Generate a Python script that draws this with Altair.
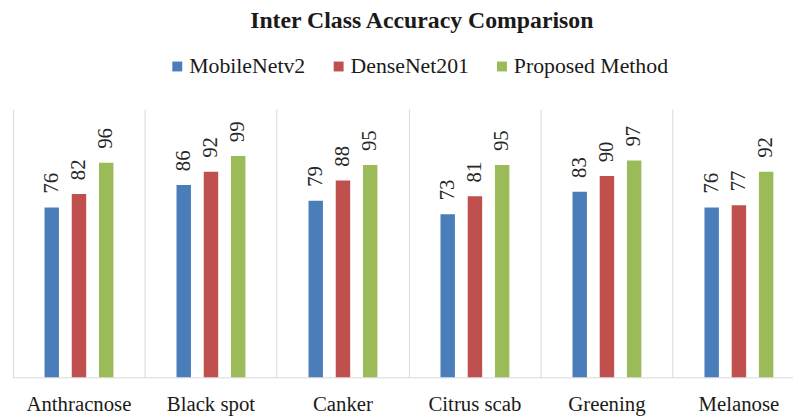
import altair as alt
import pandas as pd

categories = ["Anthracnose", "Black spot", "Canker", "Citrus scab", "Greening", "Melanose"]
series = ["MobileNetv2", "DenseNet201", "Proposed Method"]
mobilenet = [76, 86, 79, 73, 83, 76]
densenet = [82, 92, 88, 81, 90, 77]
proposed = [96, 99, 95, 95, 97, 92]
colors = ["#4a7ebb", "#c0504d", "#9bbb59"]

rows = []
for s, vals in zip(series, [mobilenet, densenet, proposed]):
    for c, v in zip(categories, vals):
        rows.append({"Disease": c, "Model": s, "Accuracy": v})
df = pd.DataFrame(rows)

FONT = "Liberation Serif"

x = alt.X(
    "Disease:N", sort=categories, title=None,
    scale=alt.Scale(range=[0, 800], paddingInner=0, paddingOuter=0),
    axis=alt.Axis(bandPosition=0, grid=True, gridColor="#d9d9d9", gridWidth=1,
                  ticks=False, domainColor="#d9d9d9", domainWidth=1, labelAngle=0,
                  labelFont=FONT, labelFontSize=21, labelColor="#1a1a1a",
                  labelPadding=17),
)
xo = alt.XOffset("Model:N", sort=series,
                 scale=alt.Scale(range=[31.9, 101.5], paddingInner=0.47, paddingOuter=0))
y = alt.Y("Accuracy:Q", scale=alt.Scale(domain=[0, 120]), axis=None)

bars = alt.Chart(df).mark_bar().encode(
    x=x, xOffset=xo, y=y,
    color=alt.Color(
        "Model:N", sort=series,
        scale=alt.Scale(domain=series, range=colors),
        legend=alt.Legend(title=None, orient="none", direction="horizontal",
                          legendX=155, legendY=-54, symbolType="square",
                          symbolSize=100, symbolStrokeWidth=0, labelFont=FONT,
                          labelFontSize=22, labelColor="#1a1a1a", labelOffset=1,
                          columnPadding=22),
    ),
)
labels = alt.Chart(df).mark_text(
    angle=270, align="left", baseline="middle", dx=14,
    font=FONT, fontSize=21, color="#262626",
).encode(x=x, xOffset=xo, y=y, text="Accuracy:Q")

chart = (bars + labels).properties(
    width=788, height=271,
    title=alt.TitleParams("Inter Class Accuracy Comparison", font=FONT, fontSize=24,
                          fontWeight="bold", color="#1a1a1a", anchor="middle",
                          baseline="alphabetic", dx=19, offset=4),
    padding={"left": 5, "right": 0, "top": 100, "bottom": 38},
    autosize=alt.AutoSizeParams(type="none"),
).configure_view(stroke=None)

chart.save("out.html", embed_options={"renderer": "svg", "actions": False})
